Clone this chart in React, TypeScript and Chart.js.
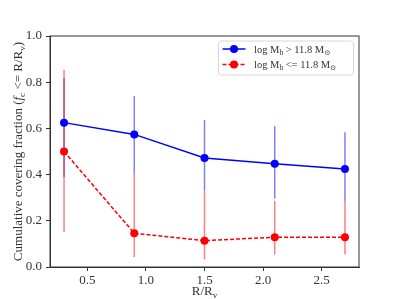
import React, { useEffect, useRef } from "react";
import { Chart, registerables } from "chart.js";

Chart.register(...registerables);

const radii = [0.3, 0.9, 1.5, 2.1, 2.7];
const highMassFrac = [0.625, 0.574, 0.472, 0.447, 0.424];
const highMassLow = [0.39, 0.405, 0.332, 0.296, 0.286];
const highMassHigh = [0.817, 0.74, 0.636, 0.61, 0.583];
const lowMassFrac = [0.5, 0.146, 0.114, 0.129, 0.129];
const lowMassLow = [0.152, 0.043, 0.033, 0.054, 0.054];
const lowMassHigh = [0.853, 0.405, 0.332, 0.286, 0.286];
const xTicks = [0.5, 1.0, 1.5, 2.0, 2.5];
const yTicks = [0, 0.2, 0.4, 0.6, 0.8, 1.0];

const FONT = "'Liberation Serif', 'DejaVu Serif', serif";
const TEXT = "#333";

type Seg = { t: string; it?: boolean; sub?: boolean };

function segFont(s: Seg, size: number) {
  const sz = s.sub ? size * 0.7 : size;
  return `${s.it ? "italic " : ""}${sz}px ${FONT}`;
}
function measureRich(ctx: CanvasRenderingContext2D, segs: Seg[], size: number) {
  let w = 0;
  for (const s of segs) {
    ctx.font = segFont(s, size);
    w += ctx.measureText(s.t).width;
  }
  return w;
}
function drawRich(ctx: CanvasRenderingContext2D, segs: Seg[], x: number, y: number, size: number) {
  let cx = x;
  ctx.textBaseline = "alphabetic";
  ctx.textAlign = "left";
  for (const s of segs) {
    ctx.font = segFont(s, size);
    ctx.fillText(s.t, cx, s.sub ? y + size * 0.22 : y);
    cx += ctx.measureText(s.t).width;
  }
}

const yTitle: Seg[] = [
  { t: "Cumulative covering fraction (" },
  { t: "f", it: true },
  { t: "c", sub: true },
  { t: " <= R/R" },
  { t: "v", sub: true },
  { t: ")" },
];
const xTitle: Seg[] = [{ t: "R/R" }, { t: "v", sub: true }];
const legendHigh: Seg[] = [{ t: "log M" }, { t: "h", sub: true }, { t: " > 11.8 M" }, { t: "\u2299", sub: true }];
const legendLow: Seg[] = [{ t: "log M" }, { t: "h", sub: true }, { t: " <= 11.8 M" }, { t: "\u2299", sub: true }];

const extras = {
  id: "extras",
  beforeDatasetsDraw(chart: any) {
    const ctx = chart.ctx as CanvasRenderingContext2D;
    const xs = chart.scales.x;
    const ys = chart.scales.y;
    const bars = [
      { lo: highMassLow, hi: highMassHigh, c: "rgba(0,0,255,0.5)" },
      { lo: lowMassLow, hi: lowMassHigh, c: "rgba(255,0,0,0.5)" },
    ];
    ctx.save();
    ctx.lineWidth = 1.5;
    for (const b of bars) {
      ctx.strokeStyle = b.c;
      radii.forEach((r, i) => {
        const px = xs.getPixelForValue(r);
        ctx.beginPath();
        ctx.moveTo(px, ys.getPixelForValue(b.lo[i]));
        ctx.lineTo(px, ys.getPixelForValue(b.hi[i]));
        ctx.stroke();
      });
    }
    ctx.restore();
  },
  afterDraw(chart: any) {
    const ctx = chart.ctx as CanvasRenderingContext2D;
    const a = chart.chartArea;
    ctx.save();
    ctx.strokeStyle = "#333";
    ctx.lineWidth = 1;
    ctx.strokeRect(a.left, a.top, a.right - a.left, a.bottom - a.top);
    ctx.fillStyle = TEXT;
    const xs = 13;
    const xw = measureRich(ctx, xTitle, xs);
    drawRich(ctx, xTitle, (a.left + a.right) / 2 - xw / 2, 295, xs);
    const ysz = 13;
    const yw = measureRich(ctx, yTitle, ysz);
    ctx.save();
    ctx.translate(22, (a.top + a.bottom) / 2);
    ctx.rotate(-Math.PI / 2);
    drawRich(ctx, yTitle, -yw / 2, 0, ysz);
    ctx.restore();
    const lx = 218.5, ly = 41, lw = 135, lh = 34;
    ctx.beginPath();
    (ctx as any).roundRect(lx, ly, lw, lh, 3);
    ctx.fillStyle = "rgba(255,255,255,0.8)";
    ctx.fill();
    ctx.strokeStyle = "#d8d8d8";
    ctx.lineWidth = 1;
    ctx.stroke();
    const rows = [
      { segs: legendHigh, c: "#0000ff", dash: [] as number[], y: 49 },
      { segs: legendLow, c: "#ff0000", dash: [4, 2], y: 64.5 },
    ];
    for (const r of rows) {
      ctx.strokeStyle = r.c;
      ctx.lineWidth = 1.5;
      ctx.setLineDash(r.dash);
      ctx.beginPath();
      ctx.moveTo(222.5, r.y);
      ctx.lineTo(245.5, r.y);
      ctx.stroke();
      ctx.setLineDash([]);
      ctx.fillStyle = r.c;
      ctx.beginPath();
      ctx.arc(234, r.y, 4, 0, Math.PI * 2);
      ctx.fill();
      ctx.fillStyle = TEXT;
      drawRich(ctx, r.segs, 254, r.y + 3.6, 10.5);
    }
    ctx.restore();
  },
};

export default function App() {
  const ref = useRef<HTMLCanvasElement | null>(null);
  useEffect(() => {
    if (!ref.current) return;
    const chart = new Chart(ref.current, {
      type: "line",
      data: {
        datasets: [
          {
            label: "low",
            data: radii.map((r, i) => ({ x: r, y: lowMassFrac[i] })),
            borderColor: "#ff0000",
            backgroundColor: "#ff0000",
            borderWidth: 1.5,
            borderDash: [4, 2],
            pointRadius: 4,
            pointBorderWidth: 0,
            pointBackgroundColor: "#ff0000",
            tension: 0,
          },
          {
            label: "high",
            data: radii.map((r, i) => ({ x: r, y: highMassFrac[i] })),
            borderColor: "#0000ff",
            backgroundColor: "#0000ff",
            borderWidth: 1.5,
            pointRadius: 4,
            pointBorderWidth: 0,
            pointBackgroundColor: "#0000ff",
            tension: 0,
          },
        ],
      },
      options: {
        responsive: false,
        animation: false,
        events: [],
        layout: { padding: { top: 36, right: 40, left: 0, bottom: 0 } },
        plugins: { legend: { display: false }, tooltip: { enabled: false }, title: { display: false } },
        scales: {
          x: {
            type: "linear",
            min: 0.18,
            max: 2.82,
            afterBuildTicks: (s: any) => {
              s.ticks = xTicks.map((v) => ({ value: v }));
            },
            afterFit: (s: any) => {
              s.height = 32;
            },
            grid: { display: true, drawOnChartArea: false, drawTicks: true, tickLength: 4, color: "#333", lineWidth: 1 },
            border: { display: true, color: "#333", width: 1 },
            ticks: {
              padding: 2,
              color: TEXT,
              font: { family: FONT, size: 13 },
              maxRotation: 0,
              callback: (v: any) => Number(v).toFixed(1),
            },
          },
          y: {
            type: "linear",
            min: 0,
            max: 1,
            afterBuildTicks: (s: any) => {
              s.ticks = yTicks.map((v) => ({ value: v }));
            },
            afterFit: (s: any) => {
              s.width = 50;
            },
            grid: { display: true, drawOnChartArea: false, drawTicks: true, tickLength: 4, color: "#333", lineWidth: 1 },
            border: { display: true, color: "#333", width: 1 },
            ticks: {
              padding: 4,
              color: TEXT,
              font: { family: FONT, size: 13 },
              callback: (v: any) => Number(v).toFixed(1),
            },
          },
        },
      },
      plugins: [extras],
    } as any);
    return () => chart.destroy();
  }, []);
  return (
    <canvas
      ref={ref}
      width={399}
      height={299}
      style={{ position: "absolute", left: 0, top: 0, display: "block" }}
    />
  );
}
